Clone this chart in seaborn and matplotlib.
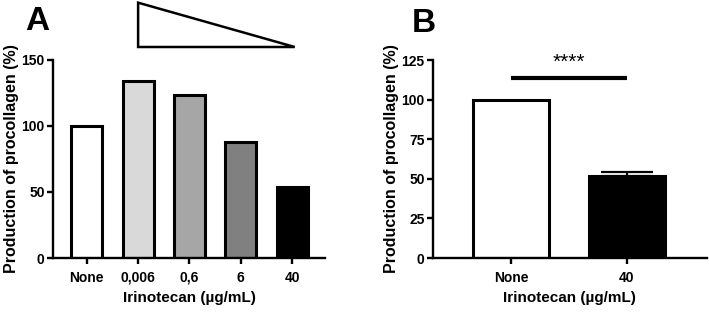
import numpy as np
import matplotlib
matplotlib.use("Agg")
import matplotlib.pyplot as plt
from matplotlib.patches import Polygon
import seaborn as sns

# panel A
doses_a = ["None", "0,006", "0,6", "6", "40"]
prod_a = [100, 134, 123, 88, 54]
colors_a = ["#ffffff", "#d9d9d9", "#a6a6a6", "#808080", "#000000"]

# panel B
doses_b = ["None", "40"]
prod_b = [100, 51.5]
err_b = [0, 3]
colors_b = ["#ffffff", "#000000"]
signif = "****"

sns.set_style("ticks")
plt.rcParams["font.family"] = ["Liberation Sans", "DejaVu Sans"]
plt.rcParams["font.weight"] = "bold"
plt.rcParams["text.color"] = "black"
plt.rcParams["axes.labelcolor"] = "black"
plt.rcParams["axes.edgecolor"] = "black"
plt.rcParams["axes.linewidth"] = 1.7
plt.rcParams["xtick.major.width"] = 1.7
plt.rcParams["ytick.major.width"] = 1.7
plt.rcParams["xtick.major.size"] = 4
plt.rcParams["ytick.major.size"] = 4

fig = plt.figure(figsize=(7.09, 3.13), dpi=100)
ax1 = fig.add_axes([0.0748, 0.1757, 0.3836, 0.634])
ax2 = fig.add_axes([0.6107, 0.1757, 0.386, 0.6326])


def style(ax, ymax, step):
    sns.despine(ax=ax)
    ax.set_ylim(0, ymax)
    ax.set_yticks(np.arange(0, ymax + 1, step))
    ax.tick_params(axis="y", labelsize=10, pad=2, colors="black")
    ax.tick_params(axis="x", labelsize=10, pad=5, colors="black")
    for lab in ax.get_xticklabels() + ax.get_yticklabels():
        lab.set_fontweight("bold")
    ax.set_xlabel("Irinotecan (\u00b5g/mL)", fontsize=11, fontweight="bold", labelpad=5)
    ax.set_ylabel("Production of procollagen (%)", fontsize=11.5, fontweight="bold", labelpad=2)


sns.barplot(x=doses_a, y=prod_a, hue=doses_a, palette=colors_a, legend=False,
            width=0.6, edgecolor="black", linewidth=2.2, ax=ax1)
ax1.set_xlim(-0.657, 4.64)
style(ax1, 150, 50)

# decreasing-dose triangle above panel A
tri = Polygon([[1, 193], [1, 159.5], [4.05, 159.5]], closed=True, fill=False,
              edgecolor="black", linewidth=1.8, clip_on=False)
ax1.add_patch(tri)

sns.barplot(x=doses_b, y=prod_b, hue=doses_b, palette=colors_b, legend=False,
            width=0.66, edgecolor="black", linewidth=2.2, ax=ax2)
ax2.errorbar(x=[1], y=[prod_b[1]], yerr=[[0], [err_b[1]]], fmt="none",
             ecolor="black", elinewidth=1.6, capsize=19, capthick=1.6)
ax2.set_xlim(-0.674, 1.69)
style(ax2, 125, 25)

ax2.plot([0, 1], [113.8, 113.8], color="black", linewidth=3, solid_capstyle="butt")
ax2.text(0.5, 117.5, signif, ha="center", va="bottom", fontsize=15, fontweight="normal")

fig.text(37.5 / 709, 1 - 21 / 313, "A", fontsize=24, fontweight="bold", ha="center", va="center")
fig.text(424 / 709, 1 - 24 / 313, "B", fontsize=24, fontweight="bold", ha="center", va="center")

fig.savefig("out.png", dpi=100)
